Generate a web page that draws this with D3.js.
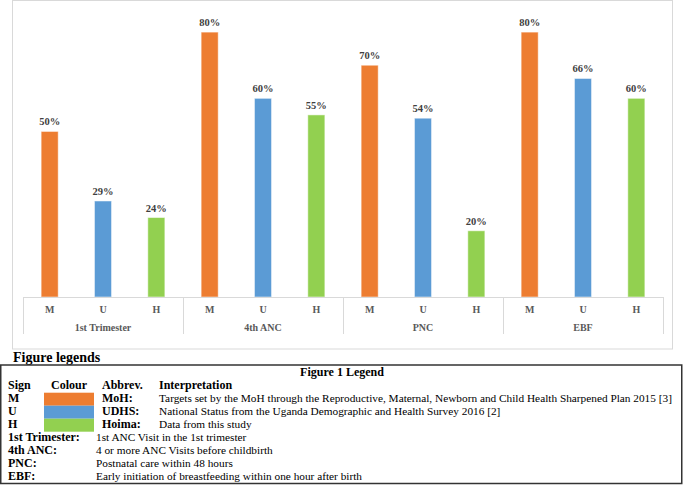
<!DOCTYPE html>
<html><head><meta charset="utf-8">
<script src="https://cdn.jsdelivr.net/npm/d3@7"></script>
<style>body{margin:0;background:#fff}svg{display:block}</style>
</head><body>
<svg id="c" width="685" height="485"></svg>
<script>
const categories = ["1st Trimester", "4th ANC", "PNC", "EBF"];
const seriesKeys = ["M", "U", "H"];
const moh   = [50, 80, 70, 80];
const udhs  = [29, 60, 54, 66];
const hoima = [24, 55, 20, 60];
const colours = ["#ED7D31", "#5B9BD5", "#92D050"];

const legendHeader = ["Sign", "Colour", "Abbrev.", "Interpretation"];
const legendSigns = ["M", "U", "H"];
const legendAbbrev = ["MoH:", "UDHS:", "Hoima:"];
const legendInterp = [
  "Targets set by the MoH through the Reproductive, Maternal, Newborn and Child Health Sharpened Plan 2015 [3]",
  "National Status from the Uganda Demographic and Health Survey 2016 [2]",
  "Data from this study"
];
const defTerms = ["1st Trimester:", "4th ANC:", "PNC:", "EBF:"];
const defTexts = [
  "1st ANC Visit in the 1st trimester",
  "4 or more ANC Visits before childbirth",
  "Postnatal care within 48 hours",
  "Early initiation of breastfeeding within one hour after birth"
];

const seriesVals = [moh, udhs, hoima];
const data = categories.map((c, i) => ({cat: c, vals: seriesKeys.map((k, j) => ({key: k, v: seriesVals[j][i], col: colours[j]}))}));

const svg = d3.select("#c");
const serif = "'Liberation Serif','Times New Roman',serif";

// outer chart frame
svg.append("rect").attr("x", 12.5).attr("y", 0.5).attr("width", 660).attr("height", 348.5)
  .attr("fill", "#fff").attr("stroke", "#d9d9d9").attr("stroke-width", 1);

const x0 = d3.scaleBand().domain(categories).range([23, 663]).padding(0);
const x1 = d3.scaleBand().domain(seriesKeys).range([0, x0.bandwidth()]).paddingInner(0.68).paddingOuter(0.34);
const y = d3.scaleLinear().domain([0, 90]).range([297, -1]);

const g = svg.append("g");
const groups = g.selectAll("g.cat").data(data).join("g").attr("class", "cat")
  .attr("transform", d => `translate(${x0(d.cat)},0)`);

groups.selectAll("rect").data(d => d.vals).join("rect")
  .attr("x", d => x1(d.key)).attr("width", x1.bandwidth())
  .attr("y", d => y(d.v)).attr("height", d => y(0) - y(d.v))
  .attr("fill", d => d.col).attr("stroke", "#ffffff").attr("stroke-opacity", 0.5).attr("stroke-width", 1);

groups.selectAll("text.lbl").data(d => d.vals).join("text").attr("class", "lbl")
  .attr("x", d => x1(d.key) + x1.bandwidth() / 2).attr("y", d => y(d.v) - 6)
  .attr("text-anchor", "middle").attr("font-family", serif).attr("font-weight", "bold")
  .attr("font-size", 10.5).attr("fill", "#404040").text(d => d.v + "%");

// category axis box
const axisCol = "#d9d9d9";
g.append("line").attr("x1", 23).attr("x2", 663).attr("y1", y(0) + 0.5).attr("y2", y(0) + 0.5)
  .attr("stroke", axisCol).attr("stroke-width", 1);
const seps = categories.map(c => x0(c)).concat([x0.range()[1]]);
g.selectAll("line.sep").data(seps).join("line").attr("class", "sep")
  .attr("x1", d => d + 0.5).attr("x2", d => d + 0.5).attr("y1", y(0)).attr("y2", 334)
  .attr("stroke", axisCol).attr("stroke-width", 1);

groups.selectAll("text.tick").data(d => d.vals).join("text").attr("class", "tick")
  .attr("x", d => x1(d.key) + x1.bandwidth() / 2).attr("y", 313)
  .attr("text-anchor", "middle").attr("font-family", serif).attr("font-weight", "bold")
  .attr("font-size", 10).attr("fill", "#595959").text(d => d.key);

groups.append("text").attr("x", x0.bandwidth() / 2).attr("y", 331)
  .attr("text-anchor", "middle").attr("font-family", serif).attr("font-weight", "bold")
  .attr("font-size", 10).attr("fill", "#595959").text(d => d.cat);

// Figure legends heading
svg.append("text").attr("x", 13).attr("y", 362).attr("font-family", serif).attr("font-weight", "bold")
  .attr("font-size", 14).attr("fill", "#000").text("Figure legends");

// legend table
const lg = svg.append("g");
lg.append("rect").attr("x", 0.75).attr("y", 365).attr("width", 681).attr("height", 118.5)
  .attr("fill", "none").attr("stroke", "#333").attr("stroke-width", 1.5);
lg.append("text").attr("x", 342).attr("y", 376).attr("text-anchor", "middle").attr("font-family", serif)
  .attr("font-weight", "bold").attr("font-size", 12).text("Figure 1 Legend");

const rowH = 13;
const row0 = 389;
const colX = [8, 51, 102, 159];
const regSize = 11.3;
lg.selectAll("text.hdr").data(legendHeader).join("text").attr("class", "hdr")
  .attr("x", (d, i) => colX[i]).attr("y", row0).attr("font-family", serif).attr("font-weight", "bold")
  .attr("font-size", 12).text(d => d);

legendSigns.forEach((s, i) => {
  const yy = row0 + rowH * (i + 1);
  lg.append("text").attr("x", colX[0]).attr("y", yy).attr("font-family", serif).attr("font-weight", "bold").attr("font-size", 12).text(s);
  lg.append("rect").attr("x", 44).attr("y", 392.7 + i * 13).attr("width", 50).attr("height", 13).attr("fill", colours[i]);
  lg.append("text").attr("x", colX[2]).attr("y", yy).attr("font-family", serif).attr("font-weight", "bold").attr("font-size", 12).text(legendAbbrev[i]);
  lg.append("text").attr("x", colX[3]).attr("y", yy).attr("font-family", serif).attr("font-size", regSize).text(legendInterp[i]);
});
defTerms.forEach((t, i) => {
  const yy = row0 + rowH * (i + 4);
  lg.append("text").attr("x", colX[0]).attr("y", yy).attr("font-family", serif).attr("font-weight", "bold").attr("font-size", 12).text(t);
  lg.append("text").attr("x", 96).attr("y", yy).attr("font-family", serif).attr("font-size", regSize).text(defTexts[i]);
});
</script>
</body></html>
